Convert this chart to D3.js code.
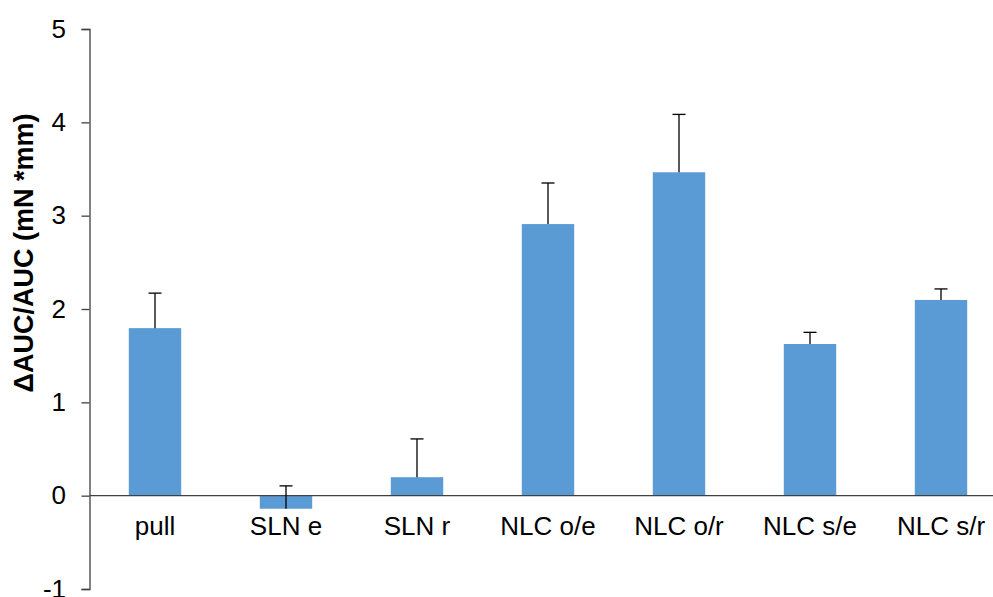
<!DOCTYPE html>
<html>
<head>
<meta charset="utf-8">
<script src="https://cdn.jsdelivr.net/npm/d3@7"></script>
<style>
  html, body { margin: 0; padding: 0; background: #fff; }
  svg { display: block; font-family: "Liberation Sans", Arial, sans-serif; }
</style>
</head>
<body>
<script>
const categories = ["pull", "SLN e", "SLN r", "NLC o/e", "NLC o/r", "NLC s/e", "NLC s/r"];
const values = [1.795, -0.14, 0.198, 2.91, 3.465, 1.625, 2.097];
const errors = [0.375, 0.245, 0.41, 0.44, 0.62, 0.125, 0.118];
const yTicks = [-1, 0, 1, 2, 3, 4, 5];
const yTitle = "ΔAUC/AUC (mN *mm)";

const W = 993, H = 597;
const svg = d3.select("body").append("svg").attr("width", W).attr("height", H);

const axisX = 89.5;
const x = d3.scaleBand().domain(categories).range([axisX, axisX + 131 * categories.length]).padding(0);
const barW = x.bandwidth() * 0.4;
const y = d3.scaleLinear().domain([-1, 5]).range([589, 29]);

// bars
svg.selectAll("rect.bar").data(categories).enter().append("rect")
  .attr("class", "bar")
  .attr("x", d => x(d) + x.bandwidth() / 2 - barW / 2)
  .attr("width", barW)
  .attr("y", (d, i) => y(Math.max(0, values[i])))
  .attr("height", (d, i) => Math.abs(y(values[i]) - y(0)))
  .attr("fill", "#5b9bd5");

// zero line
svg.append("line")
  .attr("x1", axisX).attr("x2", W)
  .attr("y1", y(0)).attr("y2", y(0))
  .attr("stroke", "#404040").attr("stroke-width", 1.3);

// error bars
const eb = svg.selectAll("g.err").data(categories).enter().append("g").attr("class", "err");
eb.append("line")
  .attr("x1", d => x(d) + x.bandwidth() / 2).attr("x2", d => x(d) + x.bandwidth() / 2)
  .attr("y1", (d, i) => y(values[i])).attr("y2", (d, i) => y(values[i] + errors[i]))
  .attr("stroke", "#000").attr("stroke-width", 1.3);
eb.append("line")
  .attr("x1", d => x(d) + x.bandwidth() / 2 - 6.5).attr("x2", d => x(d) + x.bandwidth() / 2 + 6.5)
  .attr("y1", (d, i) => y(values[i] + errors[i])).attr("y2", (d, i) => y(values[i] + errors[i]))
  .attr("stroke", "#000").attr("stroke-width", 1.3);

// y axis
const yAxis = d3.axisLeft(y).tickValues(yTicks).tickSize(8).tickPadding(15.5).tickFormat(d => String(d));
const gy = svg.append("g").attr("transform", `translate(${axisX},0)`).call(yAxis);
gy.attr("font-size", 26).attr("font-family", "'Liberation Sans', Arial, sans-serif");
gy.select(".domain").attr("stroke", "#404040").attr("stroke-width", 1.3);
gy.selectAll(".tick line").attr("stroke", "#404040").attr("stroke-width", 1.3);
gy.selectAll(".tick text").attr("fill", "#000");

// category labels
svg.selectAll("text.cat").data(categories).enter().append("text")
  .attr("class", "cat")
  .attr("x", d => x(d) + x.bandwidth() / 2)
  .attr("y", 535)
  .attr("text-anchor", "middle")
  .attr("font-size", 26)
  .attr("fill", "#000")
  .text(d => d);

// y title
svg.append("text")
  .attr("transform", `translate(33,253) rotate(-90)`)
  .attr("text-anchor", "middle")
  .attr("font-size", 27)
  .attr("font-weight", "bold")
  .attr("fill", "#000")
  .text(yTitle);
</script>
</body>
</html>
